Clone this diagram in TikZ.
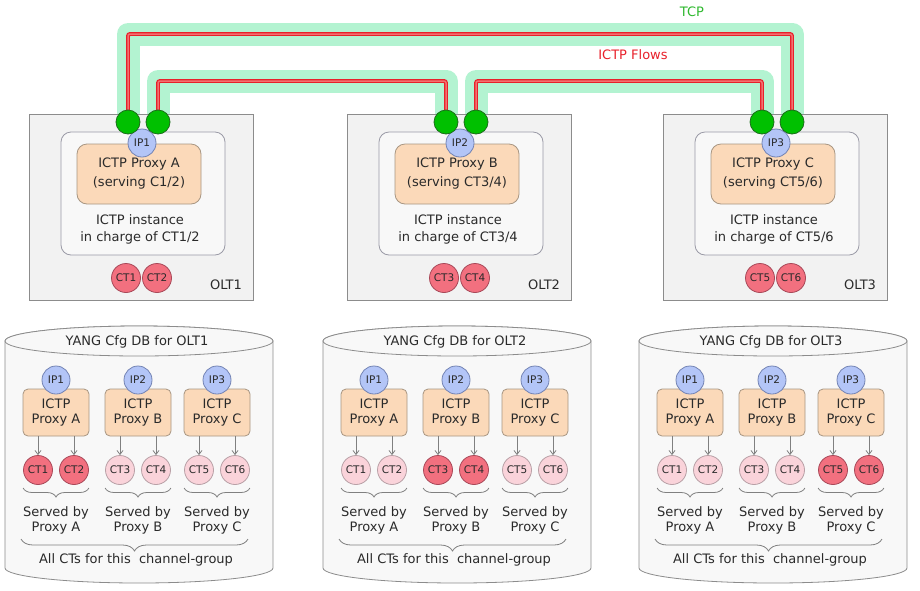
\documentclass[tikz,border=0pt]{standalone}
\usepackage{fontspec}
\setmainfont{DejaVu Sans}
\usetikzlibrary{backgrounds,decorations.pathreplacing,arrows.meta}

\definecolor{oltfill}{HTML}{F2F2F2}
\definecolor{oltedge}{HTML}{8C8C8C}
\definecolor{instfill}{HTML}{F8F8F8}
\definecolor{instedge}{HTML}{9A9AA6}
\definecolor{proxyfill}{HTML}{FBD9B9}
\definecolor{proxyedge}{HTML}{A89682}
\definecolor{ipfill}{HTML}{B3C5F7}
\definecolor{ipedge}{HTML}{7383B3}
\definecolor{ctfill}{HTML}{F2707F}
\definecolor{ctedge}{HTML}{A84858}
\definecolor{palefill}{HTML}{FAD3DA}
\definecolor{paleedge}{HTML}{B8A0A6}
\definecolor{portfill}{HTML}{00C000}
\definecolor{portedge}{HTML}{1A6E1A}
\definecolor{bandgreen}{HTML}{B3F3D1}
\definecolor{flowred}{HTML}{E8202A}
\definecolor{flowpink}{HTML}{F27070}
\definecolor{dbfill}{HTML}{F8F8F8}
\definecolor{dbedge}{HTML}{8C8C8C}
\definecolor{arrowgray}{HTML}{808080}
\definecolor{tcpgreen}{HTML}{2DB82D}
\definecolor{txtgray}{HTML}{2A2A2A}

\begin{document}
\begin{tikzpicture}[x=1pt,y=-1pt,line width=0.8pt,font=\fontsize{13}{15}\selectfont,text=txtgray]
  \tikzstyle{oltbox}=[draw=oltedge, fill=oltfill, minimum width=224pt, minimum height=186pt, inner sep=0pt]
  \tikzstyle{instbox}=[draw=instedge, fill=instfill, rounded corners=10pt, minimum width=164pt, minimum height=123pt, inner sep=0pt]
  \tikzstyle{proxybig}=[draw=proxyedge, fill=proxyfill, rounded corners=10pt, minimum width=124pt, minimum height=60pt, align=center, font=\fontsize{13}{19}\selectfont]
  \tikzstyle{proxysmall}=[draw=proxyedge, fill=proxyfill, rounded corners=5pt, minimum width=66pt, minimum height=47pt, inner sep=0pt, align=center]
  \tikzstyle{ipnode}=[circle, draw=ipedge, fill=ipfill, minimum size=28pt, inner sep=0pt, font=\fontsize{10.5}{12}\selectfont]
  \tikzstyle{ctnode}=[circle, draw=ctedge, fill=ctfill, minimum size=29pt, inner sep=0pt, font=\fontsize{10.5}{12}\selectfont]
  \tikzstyle{portnode}=[circle, draw=portedge, fill=portfill, minimum size=24pt, inner sep=0pt]
  \tikzstyle{tcpband}=[draw=bandgreen, line width=23pt, line join=round]
  \tikzstyle{flowline}=[draw=flowred, line width=1.2pt, double=flowpink, double distance=1.5pt, rounded corners=2pt]
  \tikzstyle{dbshape}=[draw=dbedge, fill=dbfill]
  \tikzstyle{ctarrow}=[draw=arrowgray, -{Straight Barb[length=4pt,width=6pt]}]
  \tikzstyle{bracegray}=[draw=arrowgray, decorate, decoration={brace, amplitude=#1, mirror}]

  \useasboundingbox (0,0) rectangle (920,590);

  % OLT boxes with their ICTP instance
  \foreach \i/\ox/\p/\srv/\ca/\cb in {1/0/A/{C1/2}/1/2, 2/318/B/{CT3/4}/3/4, 3/634/C/{CT5/6}/5/6}{
    \node[oltbox] (olt\i) at (141+\ox,207) {};
    \node[instbox] (inst\i) at (143+\ox,193.5) {};
    \node[proxybig] (proxy\i) at (139+\ox,174) {ICTP Proxy \p\\(serving \srv)};
    \node[ipnode] (ip\i) at (142+\ox,143) {IP\i};
    \node[portnode] (ga\i) at (128+\ox,122) {};
    \node[portnode] (gb\i) at (158+\ox,122) {};
    \node[align=center, font=\fontsize{13}{17}\selectfont] (instlbl\i) at (140+\ox,229) {ICTP instance\\in charge of CT\ca/\cb};
    \node[ctnode] (ct\ca) at (126+\ox,278) {CT\ca};
    \node[ctnode] (ct\cb) at (157+\ox,278) {CT\cb};
    \node (oltlbl\i) at (226+\ox,285) {OLT\i};
  }

  % TCP connections and ICTP flows
  \coordinate (tcptop) at (0,34);
  \coordinate (flowtop) at (0,81);
  \begin{scope}[on background layer]
    \draw[tcpband] (ga1.center) |- (gb3 |- tcptop) -- (gb3.center);
    \draw[tcpband] (gb1.center) |- (ga2 |- flowtop) -- (ga2.center);
    \draw[tcpband] (gb2.center) |- (ga3 |- flowtop) -- (ga3.center);
    \draw[flowline] (ga1.center) |- (gb3 |- tcptop) -- (gb3.center);
    \draw[flowline] (gb1.center) |- (ga2 |- flowtop) -- (ga2.center);
    \draw[flowline] (gb2.center) |- (ga3 |- flowtop) -- (ga3.center);
  \end{scope}
  \node[text=tcpgreen] (tcplbl) at (692,12) {TCP};
  \node[text=flowred] (flowlbl) at (633,55) {ICTP Flows};

  % YANG configuration databases
  \coordinate (braceline) at (0,488);
  \foreach \j/\ox in {1/0, 2/318, 3/634}{
    \draw[dbshape] (5+\ox,341) -- (5+\ox,568)
      arc[start angle=180, end angle=0, x radius=134, y radius=15] -- (273+\ox,341)
      arc[start angle=0, end angle=-180, x radius=134, y radius=15] -- cycle;
    \draw[dbshape] (139+\ox,341) ellipse[x radius=134, y radius=15];
    \node (dbtitle\j) at (137+\ox,342) {YANG Cfg DB for OLT\j};
    \foreach \k/\cx/\p/\ca/\cb in {1/56/A/1/2, 2/138/B/3/4, 3/217/C/5/6}{
      \ifnum\k=\j \def\ctf{ctfill}\def\cte{ctedge}\else \def\ctf{palefill}\def\cte{paleedge}\fi
      \node[proxysmall] (dbproxy\j\k) at (\cx+\ox,412.5) {ICTP\\Proxy \p};
      \node[ipnode] (dbip\j\k) at (\cx+\ox,380) {IP\k};
      \node[ctnode, fill=\ctf, draw=\cte] (dbct\j\ca) at (\cx-18+\ox,470) {CT\ca};
      \node[ctnode, fill=\ctf, draw=\cte] (dbct\j\cb) at (\cx+18+\ox,470) {CT\cb};
      \draw[ctarrow] (dbct\j\ca |- dbproxy\j\k.south) -- (dbct\j\ca);
      \draw[ctarrow] (dbct\j\cb |- dbproxy\j\k.south) -- (dbct\j\cb);
      \draw[bracegray=9pt] (dbct\j\ca.west |- braceline) -- (dbct\j\cb.east |- braceline);
      \node[align=center] (served\j\k) at (\cx+\ox,520) {Served by\\Proxy \p};
    }
    \draw[bracegray=12pt] (21+\ox,539) -- (248+\ox,539);
    \node (alllbl\j) at (136+\ox,560) {All CTs for this~ channel-group};
  }
\end{tikzpicture}
\end{document}
